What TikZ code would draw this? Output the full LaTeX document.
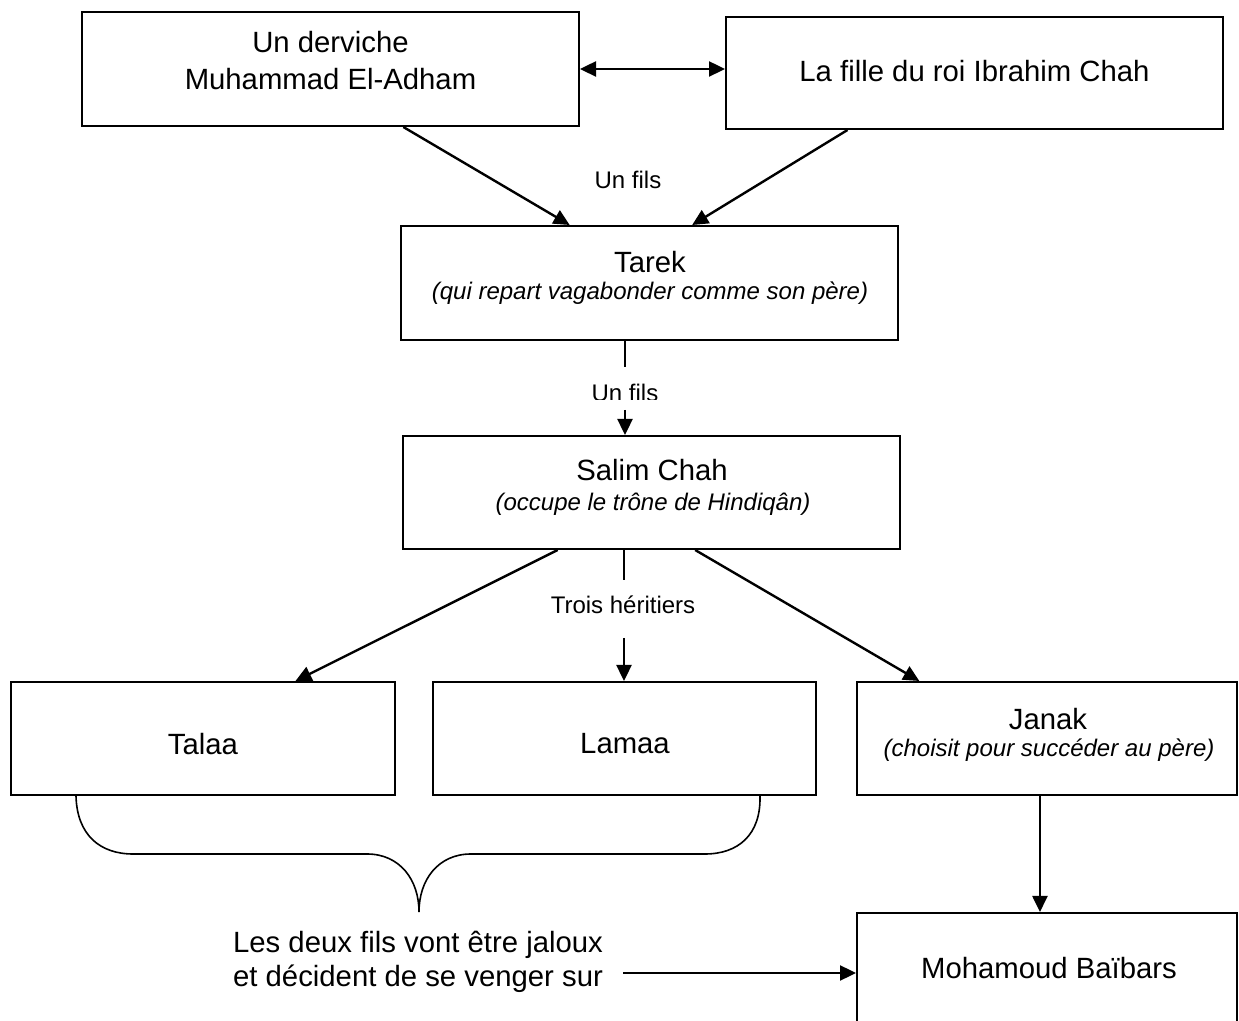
\documentclass[tikz,border=0pt]{standalone}
\usepackage{fontspec}
\setmainfont{Liberation Sans}
\usetikzlibrary{arrows.meta,calc}
\begin{document}
\begin{tikzpicture}[x=0.5pt,y=-0.5pt,
  box/.style={draw, line width=1pt, inner sep=0pt},
  main/.style={font=\fontsize{14.65pt}{18.5pt}\selectfont, inner sep=0pt, align=center},
  small/.style={font=\fontsize{12pt}{14pt}\selectfont, inner sep=0pt},
  ital/.style={font=\fontsize{12pt}{14pt}\selectfont\itshape, inner sep=0pt},
  plain/.style={line width=1.2pt},
  arr/.style={line width=1.2pt, -{Triangle[length=8pt,width=7.5pt]}},
  dbl/.style={line width=1.2pt, {Triangle[length=8pt,width=7.5pt]}-{Triangle[length=8pt,width=7.5pt]}},
  bracestyle/.style={line width=0.8pt}]
\useasboundingbox (0,0) rectangle (1239,1021);
\clip (0,0) rectangle (1239,1021);

% boxes
\node[box, minimum width=248.5pt, minimum height=57pt] (b1) at (330.5,69) {};
\node[main] (b1t) at (330.5,61) {Un derviche\\Muhammad El-Adham};
\node[box, minimum width=248.5pt, minimum height=56pt] (b2) at (974.5,73) {};
\node[main] (b2t) at (974.5,71) {La fille du roi Ibrahim Chah};

\node[box, minimum width=248.5pt, minimum height=57pt] (tarek) at (649.5,283) {};
\node[main] (tarekt) at (650,262) {Tarek};
\node[ital] (tareki) at (650,293) {(qui repart vagabonder comme son père)};

\node[box, minimum width=248.5pt, minimum height=56.5pt] (salim) at (651.5,492.5) {};
\node[main] (salimt) at (652,470) {Salim Chah};
\node[ital] (salimi) at (653,504) {(occupe le trône de Hindiqân)};

\node[box, minimum width=192pt, minimum height=56.5pt] (talaa) at (203,738.5) {};
\node[main] (talaat) at (203,744) {Talaa};
\node[box, minimum width=191.5pt, minimum height=56.5pt] (lamaa) at (624.5,738.5) {};
\node[main] (lamaat) at (625,744) {Lamaa};
\node[box, minimum width=190pt, minimum height=56.5pt] (janak) at (1047,738.5) {};
\node[main] (janakt) at (1048,719) {Janak};
\node[ital] (janaki) at (1049,750) {(choisit pour succéder au père)};

\node[box, minimum width=190pt, minimum height=63.5pt] (moh) at (1047,976.5) {};
\node[main] (moht) at (1049,968) {Mohamoud Baïbars};

% labels
\node[small] (l1) at (628,180) {Un fils};
\begin{scope}
  \clip (570,372) rectangle (680,399.5);
  \node[small] (l2) at (625,393) {Un fils};
\end{scope}
\node[small] (l3) at (623,605) {Trois héritiers};
\node[main, font=\fontsize{14.65pt}{17pt}\selectfont] (jal) at (418,962) {Les deux fils vont être jaloux\\et décident de se venger sur};

% connectors
\draw[dbl] (b1.east) -- (b1.east -| b2.west);
\draw[arr] ($(b1.south west)!0.646!(b1.south east)$) -- ($(tarek.north west)!0.340!(tarek.north east)$);
\draw[arr] ($(b2.south west)!0.2455!(b2.south east)$) -- ($(tarek.north west)!0.5855!(tarek.north east)$);

\coordinate (t1) at (625,367);
\coordinate (t2) at (625,410);
\draw[plain] (t1 |- tarek.south) -- (t1);
\draw[arr] (t2) -- (t2 |- salim.north);

\draw[arr] ($(salim.south west)!0.312!(salim.south east)$) -- ($(talaa.north west)!0.7396!(talaa.north east)$);
\coordinate (s1) at (624,580);
\coordinate (s2) at (624,638);
\draw[plain] (s1 |- salim.south) -- (s1);
\draw[arr] (s2) -- (s2 |- lamaa.north);
\draw[arr] ($(salim.south west)!0.5875!(salim.south east)$) -- ($(janak.north west)!0.1658!(janak.north east)$);

\draw[arr] ($(janak.south west)!0.4816!(janak.south east)$) -- ($(moh.north west)!0.4816!(moh.north east)$);
\coordinate (j1) at (623,973);
\draw[arr] (j1) -- (j1 -| moh.west);

% brace
\draw[bracestyle] ($(talaa.south west)+(66,0)$) .. controls (77,835) and (100,854) .. (133,854)
  -- (367,854) .. controls (400,854) and (419,880) .. (419,912)
  .. controls (419,880) and (438,854) .. (471,854)
  -- (705,854) .. controls (738,854) and (761,835) .. ($(lamaa.south west)+(328,0)$);
\end{tikzpicture}
\end{document}
